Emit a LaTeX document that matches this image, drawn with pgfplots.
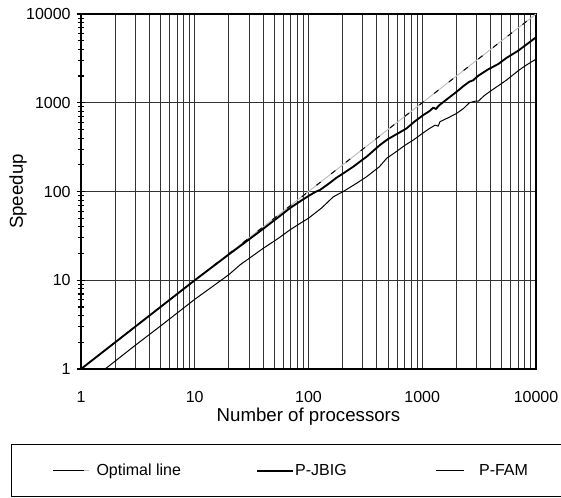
\documentclass[border=0pt]{standalone}
\usepackage{fontspec}
\setmainfont{Liberation Sans}
\usepackage{pgfplots}
\pgfplotsset{compat=1.18}
\begin{document}
\begin{tikzpicture}
\useasboundingbox (-60.75pt,-96pt) rectangle (360pt,276.75pt);
\begin{axis}[
  at={(0pt,0pt)}, anchor=south west,
  scale only axis, width=341.25pt, height=266.25pt,
  xmode=log, ymode=log,
  xmin=1, xmax=10000, ymin=1, ymax=10000,
  xtick={1,10,100,1000,10000}, xticklabels={1,10,100,1000,10000},
  ytick={1,10,100,1000,10000}, yticklabels={1,10,100,1000,10000},
  /pgf/number format/assume math mode=true,
  tick label style={font=\fontsize{12}{14}\selectfont},
  xmajorgrids, xminorgrids, ymajorgrids,
  major grid style={black!80, line width=0.75pt},
  minor grid style={black!80, line width=0.75pt},
  axis line style={black, line width=1pt},
  tick align=center,
  ytick pos=left,
  xtick pos=bottom,
  x tick style={draw=none},
  y tick style={black, line width=0.8pt},
  major tick length=6.5pt, minor tick length=5pt,
  xticklabel style={anchor=base, yshift=-21.75pt},
  yticklabel style={anchor=east, xshift=-1pt},
  every axis x label/.style={at={(axis description cs:0.5,-0.1490)}, anchor=base, font=\fontsize{14}{16}\selectfont},
  every axis y label/.style={at={(axis description cs:-0.1385,0.5)}, rotate=90, anchor=center, font=\fontsize{14}{16}\selectfont},
  xlabel={Number of processors},
  ylabel={Speedup},
  legend columns=3,
  legend style={
    at={(axis description cs:-0.1538,-0.2113)}, anchor=north west,
    draw=black, line width=0.75pt,
    inner xsep=30.75pt, inner ysep=14.5pt,
    font=\fontsize{12}{14}\selectfont,
    nodes={inner sep=0pt},
    /tikz/column 1/.style={column sep=5.25pt},
    /tikz/column 2/.style={column sep=56.25pt},
    /tikz/column 3/.style={column sep=1pt},
    /tikz/column 4/.style={column sep=66.5pt},
    /tikz/column 5/.style={column sep=11pt},
  },
  legend cell align=left,
]
% Optimal line
\addplot[black!25, line width=0.75pt,
  postaction={draw=black, dash pattern=on 4pt off 10pt},
  legend image code/.code={
    \draw[black, line width=0.75pt] (0pt,0pt) -- (19.5pt,0pt);
    \draw[black!25, line width=0.75pt] (19.5pt,0pt) -- (27pt,0pt);}]
  coordinates {(1,1) (10000,10000)};
\addlegendentry{Optimal line}
% P-JBIG
\addplot[black, line width=1.4pt, line join=round,
  legend image code/.code={\draw[black, line width=1.4pt] (0pt,0pt) -- (27pt,0pt);}]
  coordinates {
  (1,1) (2,2) (5,5) (10,10) (20,19.6) (28,27) (40,38) (55,52) (68.8,65)
  (85,78) (100,89) (115,99) (126,104) (150,122) (175,142) (202,160)
  (250,192) (290,222) (325,247) (380,295) (425,334) (500,390) (600,445)
  (730,515) (850,610) (1022,728) (1150,800) (1250,880) (1320,850)
  (1400,930) (1483,986) (1700,1130) (2009,1331) (2300,1540) (2595,1726)
  (2800,1790) (3110,2017) (3800,2380) (4666,2734) (5500,3200) (6985,3862)
  (8000,4400) (10000,5460)};
\addlegendentry{P-JBIG}
% P-FAM
\addplot[black, line width=0.75pt, line join=round,
  legend image code/.code={\draw[black, line width=0.75pt] (0pt,0pt) -- (21pt,0pt);}]
  coordinates {
  (1.63,1) (3,1.85) (5,3.05) (10,6.1) (13.6,8.1) (20,11.6) (25,14.9)
  (40,22.9) (55,30) (68.8,37) (85,44) (100,50) (130,65) (165,87) (202,100)
  (260,122) (325,147) (380,172) (420,190) (487,237) (600,285) (700,330)
  (834,380) (1000,450) (1150,510) (1300,560) (1380,545) (1432,612)
  (1700,680) (2009,760) (2300,860) (2595,1000) (2900,1040) (3110,1040)
  (3500,1200) (4000,1360) (4666,1556) (5500,1800) (6985,2296) (8000,2600)
  (10000,3100)};
\addlegendentry{P-FAM}
\end{axis}
\end{tikzpicture}
\end{document}
